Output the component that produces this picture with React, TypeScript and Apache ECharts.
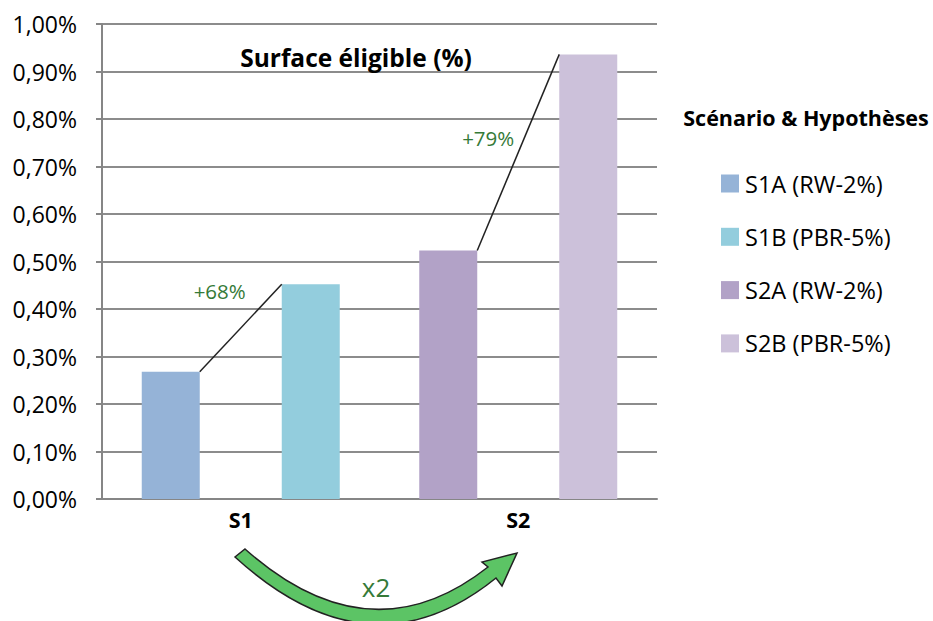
import React, { useEffect, useRef } from "react";
import * as echarts from "echarts";

const categories = ["S1", "S2"];
const seriesNames = ["S1A (RW-2%)", "S1B (PBR-5%)", "S2A (RW-2%)", "S2B (PBR-5%)"];
const s1aValues = [0.268, null];
const s1bValues = [0.452, null];
const s2aValues = [null, 0.523];
const s2bValues = [null, 0.936];
const growthLabels = ["+68%", "+79%"];
const yMin = 0;
const yMax = 1;
const yInterval = 0.1;

const colors = ["#95b3d7", "#93cddd", "#b2a2c7", "#ccc1da"];
const FONT = "'Open Sans', 'Noto Sans', sans-serif";
const BAR_W = 58;
const BAR_GAP_PX = 82;
const labelAnchors = [
  { dx: 5, v: 0.438 },
  { dx: -4, v: 0.76 },
];

const ARROW_D =
  "M245,549 Q370,660 488,567 L482,562 L517,553 L502,586 L496,578 Q370,680 235,557 Z";
let registered = false;
function ensureShape() {
  if (registered) return;
  echarts.graphic.registerShape("curvedArrow", echarts.graphic.extendPath(ARROW_D, {}) as any);
  registered = true;
}

export default function App() {
  const ref = useRef<HTMLDivElement>(null);
  useEffect(() => {
    if (!ref.current) return;
    ensureShape();
    const chart = echarts.init(ref.current, undefined, { renderer: "svg" });
    const seriesData = [s1aValues, s1bValues, s2aValues, s2bValues];
    const stacks = ["A", "B", "A", "B"];
    chart.setOption({
      animation: false,
      textStyle: { fontFamily: FONT },
      grid: { left: 102, right: 276, top: 24, bottom: 122, containLabel: false },
      legend: {
        data: seriesNames,
        orient: "vertical",
        left: 721,
        top: 171.5,
        padding: 0,
        itemWidth: 18,
        itemHeight: 18,
        itemGap: 29.3,
        icon: "rect",
        textStyle: { fontSize: 23.5, color: "#000", fontFamily: FONT, padding: [0, 0, 0, 1] },
      },
      xAxis: {
        type: "category",
        data: categories,
        axisLine: { show: true, lineStyle: { color: "#868686", width: 2 } },
        axisTick: { show: false },
        axisLabel: { fontSize: 21.5, fontWeight: "bold", color: "#000", margin: 9, fontFamily: FONT },
      },
      yAxis: {
        type: "value",
        min: yMin,
        max: yMax,
        interval: yInterval,
        axisLine: { show: true, lineStyle: { color: "#868686", width: 2 } },
        axisTick: { show: true, inside: false, length: 6, lineStyle: { color: "#868686", width: 2 } },
        splitLine: { show: true, lineStyle: { color: "#8c8c8c", width: 2 } },
        axisLabel: {
          fontSize: 23,
          color: "#000",
          margin: 25,
          fontFamily: FONT,
          formatter: (v: number) => v.toFixed(2).replace(".", ",") + "%",
        },
      },
      series: seriesData.map((d, i) => ({
        name: seriesNames[i],
        type: "bar",
        stack: stacks[i],
        data: d,
        barWidth: BAR_W,
        barGap: (BAR_GAP_PX / BAR_W) * 100 + "%",
        itemStyle: { color: colors[i] },
      })),
    });

    const half = BAR_GAP_PX / 2;
    const pairs = [
      [s1aValues[0] as number, s1bValues[0] as number],
      [s2aValues[1] as number, s2bValues[1] as number],
    ];
    const graphics: any[] = [];
    pairs.forEach((p, i) => {
      const a = chart.convertToPixel({ gridIndex: 0 }, [i, p[0]]) as number[];
      const b = chart.convertToPixel({ gridIndex: 0 }, [i, p[1]]) as number[];
      graphics.push({
        type: "line",
        shape: { x1: a[0] - half, y1: a[1], x2: b[0] + half, y2: b[1] },
        style: { stroke: "#222", lineWidth: 1.5 },
        z: 10,
      });
      const lp = chart.convertToPixel({ gridIndex: 0 }, [i, labelAnchors[i].v]) as number[];
      graphics.push({
        type: "text",
        x: lp[0] + labelAnchors[i].dx,
        y: lp[1],
        style: {
          text: growthLabels[i],
          fill: "#357a38",
          fontSize: 20.5,
          fontFamily: FONT,
          align: "right",
          verticalAlign: "middle",
        },
        z: 10,
      });
    });
    graphics.push({
      type: "text",
      x: 356,
      y: 57,
      style: {
        text: "Surface éligible (%)",
        fill: "#000",
        fontSize: 24.5,
        fontWeight: "bold",
        fontFamily: FONT,
        align: "center",
        verticalAlign: "middle",
      },
      z: 10,
    });
    graphics.push({
      type: "text",
      x: 806,
      y: 117,
      style: {
        text: "Scénario & Hypothèses",
        fill: "#000",
        fontSize: 21.5,
        fontWeight: "bold",
        fontFamily: FONT,
        align: "center",
        verticalAlign: "middle",
      },
    });
    graphics.push({
      type: "curvedArrow",
      x: 0,
      y: 0,
      style: { fill: "#5cc465", stroke: "#222", lineWidth: 1.5 },
    });
    graphics.push({
      type: "text",
      x: 376,
      y: 587,
      style: {
        text: "x2",
        fill: "#357a38",
        fontSize: 26,
        fontFamily: FONT,
        align: "center",
        verticalAlign: "middle",
      },
      z: 10,
    });
    chart.setOption({ graphic: graphics });
    return () => chart.dispose();
  }, []);
  return (
    <div
      ref={ref}
      style={{ position: "fixed", left: 0, top: 0, width: 933, height: 621, background: "#fff" }}
    />
  );
}
